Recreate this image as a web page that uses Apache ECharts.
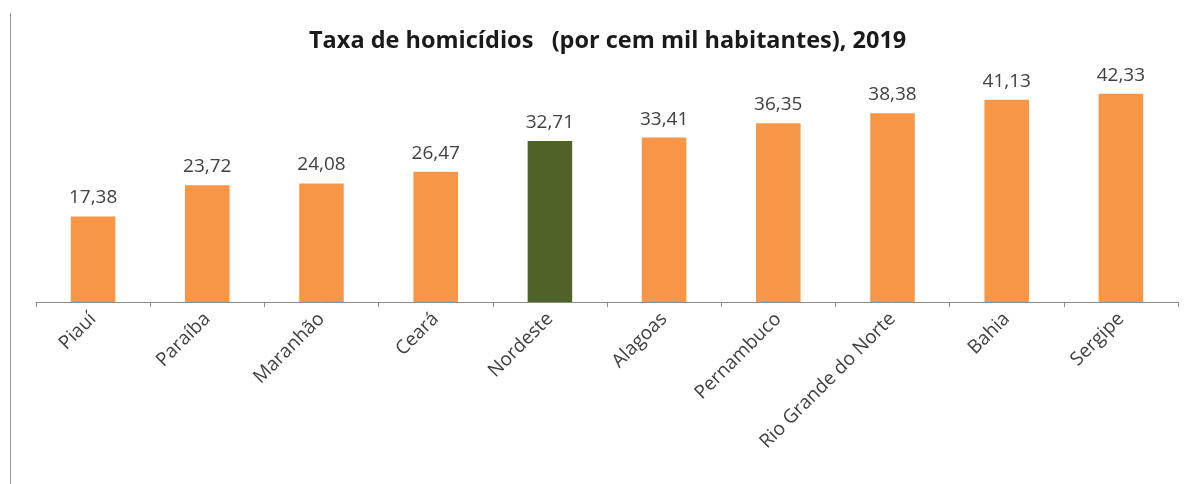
<!DOCTYPE html>
<html><head><meta charset="utf-8">
<script src="https://cdn.jsdelivr.net/npm/echarts@6/dist/echarts.min.js"></script>
<style>html,body{margin:0;padding:0;background:#fff}#c{width:1190px;height:484px}
#frame{position:absolute;left:10px;top:13px;width:1px;height:471px;background:#9a9a9a}</style>
</head><body><div id="c"></div><div id="frame"></div>
<script>
const categories = ['Piauí','Paraíba','Maranhão','Ceará','Nordeste','Alagoas','Pernambuco','Rio Grande do Norte','Bahia','Sergipe'];
const values = [17.38,23.72,24.08,26.47,32.71,33.41,36.35,38.38,41.13,42.33];
const highlight = 'Nordeste';
const titleText = 'Taxa de homicídios   (por cem mil habitantes), 2019';

const chart = echarts.init(document.getElementById('c'));
chart.setOption({
  animation:false,
  title:{text:titleText,left:304,top:24,textStyle:{fontFamily:'Open Sans',fontSize:23.5,fontWeight:'bold',color:'#1a1a1a'}},
  grid:{left:36,right:12,top:56,bottom:182,containLabel:false},
  xAxis:{type:'category',data:categories,
    axisLine:{lineStyle:{color:'#8c8c8c',width:1}},
    axisTick:{show:true,alignWithLabel:false,length:5,lineStyle:{color:'#8c8c8c'}},
    axisLabel:{rotate:45,interval:0,fontFamily:'Open Sans',fontSize:19,color:'#404040',margin:14}},
  yAxis:{type:'value',min:0,max:50,show:false,splitLine:{show:false}},
  series:[{type:'bar',barWidth:'39%',
    data:values.map((v,i)=>({value:v,itemStyle:{color:categories[i]===highlight?'#4F6228':'#F79646'}})),
    label:{show:true,position:'top',distance:9,fontFamily:'Open Sans',fontSize:19,color:'#404040',
      formatter:p=>p.value.toFixed(2).replace('.',',')}}]
});
</script></body></html>
